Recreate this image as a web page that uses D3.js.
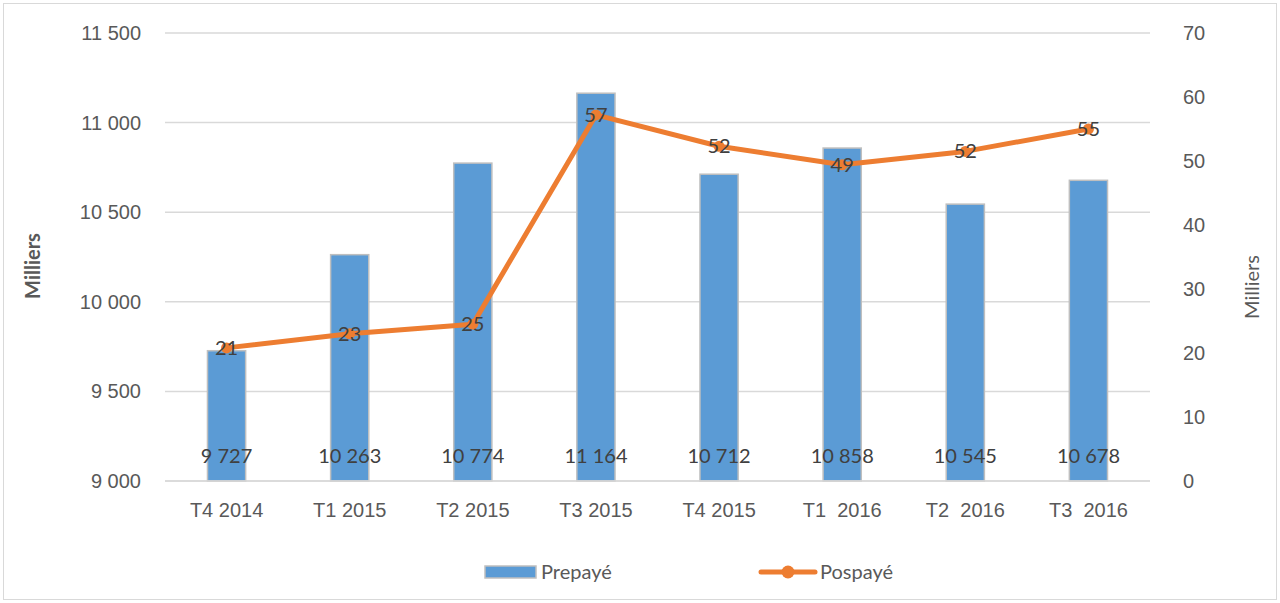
<!DOCTYPE html>
<html>
<head>
<meta charset="utf-8">
<script src="https://cdn.jsdelivr.net/npm/d3@7"></script>
<style>
  body { margin: 0; background: #fff; }
  svg { font-family: Lato, "Open Sans", sans-serif; }
</style>
</head>
<body>
<svg id="chart"></svg>
<script>
const categories = ['T4 2014', 'T1 2015', 'T2 2015', 'T3 2015', 'T4 2015', 'T1  2016', 'T2  2016', 'T3  2016'];
const prepaye = [9727, 10263, 10774, 11164, 10712, 10858, 10545, 10678];
const pospaye = [20.8, 23.0, 24.5, 57.2, 52.3, 49.4, 51.5, 55.0];
const leftTicks = [9000, 9500, 10000, 10500, 11000, 11500];
const rightTicks = [0, 10, 20, 30, 40, 50, 60, 70];

const W = 1280, H = 603;
const margin = { top: 33, right: 130, bottom: 122, left: 165 };
const width = W - margin.left - margin.right;
const height = H - margin.top - margin.bottom;
const fs = 20;

const fmt = v => d3.format(',')(v).replace(/,/g, ' ');

const root = d3.select('#chart').attr('width', W).attr('height', H);

root.append('rect')
  .attr('x', 3.5).attr('y', 3.5)
  .attr('width', W - 7).attr('height', H - 7)
  .attr('fill', '#fff').attr('stroke', '#d9d9d9');

const svg = root.append('g')
  .attr('transform', `translate(${margin.left},${margin.top})`);

const x = d3.scaleBand().domain(categories).range([0, width]).paddingInner(0.69).paddingOuter(0.345);
const yL = d3.scaleLinear().domain([9000, 11500]).range([height, 0]);
const yR = d3.scaleLinear().domain([0, 70]).range([height, 0]);

// gridlines
svg.append('g')
  .selectAll('line')
  .data(leftTicks)
  .join('line')
  .attr('x1', 0).attr('x2', width)
  .attr('y1', d => yL(d)).attr('y2', d => yL(d))
  .attr('stroke', '#d9d9d9').attr('stroke-width', 1.5);

// left axis
const leftAxis = svg.append('g')
  .call(d3.axisLeft(yL).tickValues(leftTicks).tickFormat(fmt).tickSize(0).tickPadding(24));
leftAxis.select('.domain').remove();
leftAxis.selectAll('text').attr('font-size', fs).attr('fill', '#595959');

// right axis
const rightAxis = svg.append('g')
  .attr('transform', `translate(${width},0)`)
  .call(d3.axisRight(yR).tickValues(rightTicks).tickSize(0).tickPadding(33));
rightAxis.select('.domain').remove();
rightAxis.selectAll('text').attr('font-size', fs).attr('fill', '#595959');

// x axis
const xAxis = svg.append('g')
  .attr('transform', `translate(0,${height})`)
  .call(d3.axisBottom(x).tickSize(0).tickPadding(22));
xAxis.select('.domain').remove();
xAxis.selectAll('text').attr('font-size', fs).attr('fill', '#595959').style('white-space', 'pre');

// bars
svg.append('g')
  .selectAll('rect')
  .data(prepaye)
  .join('rect')
  .attr('x', (d, i) => x(categories[i]))
  .attr('y', d => yL(d))
  .attr('width', x.bandwidth())
  .attr('height', d => height - yL(d))
  .attr('fill', '#5b9bd5')
  .attr('stroke', '#bfbfbf').attr('stroke-width', 1.5);

// baseline
svg.append('line')
  .attr('x1', 0).attr('x2', width)
  .attr('y1', height).attr('y2', height)
  .attr('stroke', '#d9d9d9').attr('stroke-width', 1.5);

// bar labels
svg.append('g')
  .selectAll('text')
  .data(prepaye)
  .join('text')
  .attr('x', (d, i) => x(categories[i]) + x.bandwidth() / 2)
  .attr('y', height - 18)
  .attr('text-anchor', 'middle')
  .attr('font-size', fs).attr('fill', '#404040')
  .text(fmt);

// line
const cx = i => x(categories[i]) + x.bandwidth() / 2;
const line = d3.line().x((d, i) => cx(i)).y(d => yR(d));
svg.append('path')
  .datum(pospaye)
  .attr('d', line)
  .attr('fill', 'none')
  .attr('stroke', '#ed7d31').attr('stroke-width', 5)
  .attr('stroke-linejoin', 'round');

svg.append('g')
  .selectAll('circle')
  .data(pospaye)
  .join('circle')
  .attr('cx', (d, i) => cx(i))
  .attr('cy', d => yR(d))
  .attr('r', 5.5)
  .attr('fill', '#ed7d31');

svg.append('g')
  .selectAll('text')
  .data(pospaye)
  .join('text')
  .attr('x', (d, i) => cx(i))
  .attr('y', d => yR(d))
  .attr('dy', '0.35em')
  .attr('text-anchor', 'middle')
  .attr('font-size', fs).attr('fill', '#404040')
  .text(d => Math.round(d));

// axis titles
root.append('text')
  .attr('transform', 'translate(40,266) rotate(-90)')
  .attr('text-anchor', 'middle')
  .attr('font-size', fs).attr('font-weight', 'bold').attr('fill', '#595959')
  .text('Milliers');

root.append('text')
  .attr('transform', 'translate(1259,287) rotate(-90)')
  .attr('text-anchor', 'middle')
  .attr('font-size', fs).attr('fill', '#595959')
  .text('Milliers');

// legend
const legend = root.append('g').attr('transform', 'translate(0,572)');
legend.append('rect')
  .attr('x', 485).attr('y', -6).attr('width', 51).attr('height', 12)
  .attr('fill', '#5b9bd5').attr('stroke', '#bfbfbf').attr('stroke-width', 1.5);
legend.append('text')
  .attr('x', 541).attr('y', 0).attr('dy', '0.35em')
  .attr('font-size', fs).attr('fill', '#595959')
  .text('Prepayé');
legend.append('line')
  .attr('x1', 761).attr('x2', 815).attr('y1', 0).attr('y2', 0)
  .attr('stroke', '#ed7d31').attr('stroke-width', 5).attr('stroke-linecap', 'round');
legend.append('circle')
  .attr('cx', 788).attr('cy', 0).attr('r', 6.5).attr('fill', '#ed7d31');
legend.append('text')
  .attr('x', 820).attr('y', 0).attr('dy', '0.35em')
  .attr('font-size', fs).attr('fill', '#595959')
  .text('Pospayé');
</script>
</body>
</html>
